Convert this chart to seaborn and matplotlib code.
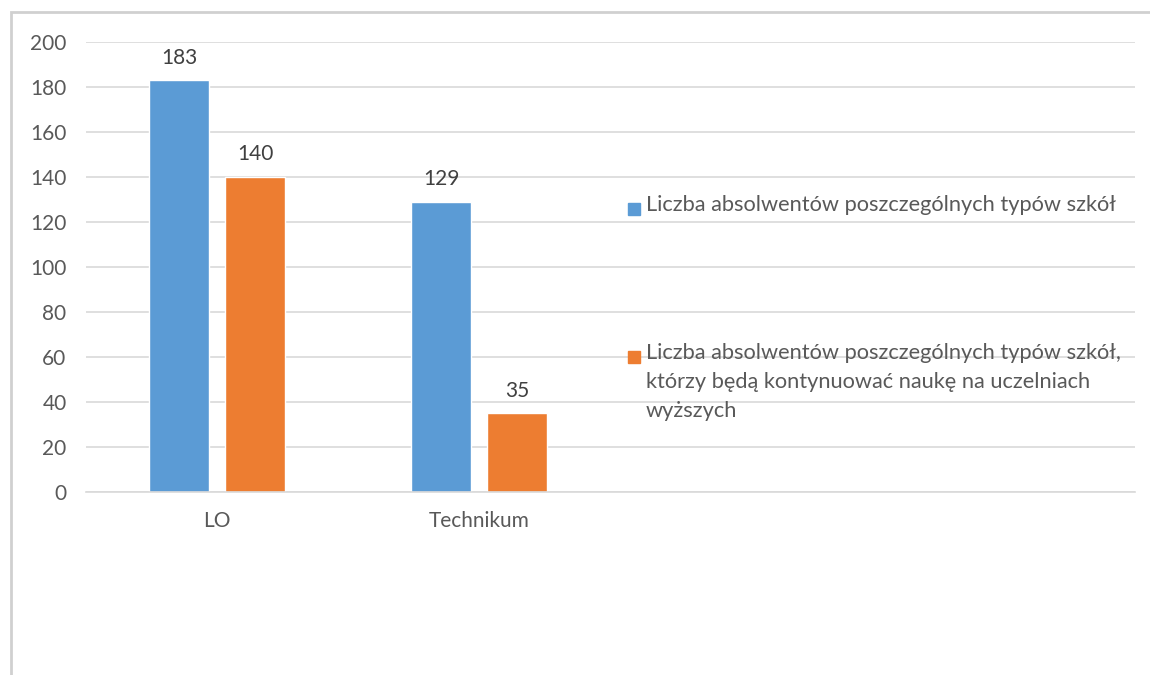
import pandas as pd
import matplotlib.pyplot as plt
import seaborn as sns
from matplotlib.patches import Rectangle

# data
school_types = ["LO", "Technikum"]
series_names = [
    "Liczba absolwentów poszczególnych typów szkół",
    "Liczba absolwentów poszczególnych typów szkół,\nktórzy będą kontynuować naukę na uczelniach\nwyższych",
]
graduates = [183, 129]
continuing = [140, 35]
y_ticks = [0, 20, 40, 60, 80, 100, 120, 140, 160, 180, 200]

colors = ["#5B9BD5", "#ED7D31"]
text_color = "#595959"
grid_color = "#D9D9D9"

df = pd.DataFrame({
    "Typ": school_types * 2,
    "Seria": [series_names[0]] * 2 + [series_names[1]] * 2,
    "Wartosc": graduates + continuing,
})

sns.set_style("white")
plt.rcParams["font.family"] = ["Lato", "DejaVu Sans"]

fig = plt.figure(figsize=(11.5, 6.75), dpi=100)
ax = fig.add_axes([86 / 1150, 1 - 492 / 675, 1049 / 1150, 450 / 675])

sns.barplot(data=df, x="Typ", y="Wartosc", hue="Seria", order=school_types,
            hue_order=series_names, palette=colors, width=0.58, gap=0.21,
            saturation=1, legend=False, ax=ax)

for container in ax.containers:
    ax.bar_label(container, padding=9, fontsize=15, color="#404040")

# Excel leaves room for two more empty categories
ax.set_xlim(-0.5, 3.5)
ax.set_ylim(0, 200)
ax.set_yticks(y_ticks)
ax.set_xlabel("")
ax.set_ylabel("")
ax.grid(axis="y", color=grid_color, linewidth=1.2)
ax.set_axisbelow(True)
for side in ["top", "right", "left"]:
    ax.spines[side].set_visible(False)
ax.spines["bottom"].set_color(grid_color)
ax.spines["bottom"].set_linewidth(1.2)
ax.tick_params(axis="both", length=0, labelsize=15, labelcolor=text_color)
ax.tick_params(axis="y", pad=14)
ax.tick_params(axis="x", pad=14)

# legend drawn by hand so the marker sits on the first line
legend_y = [209, 357]
for name, color, ly in zip(series_names, colors, legend_y):
    fig.add_artist(Rectangle((628 / 1150, 1 - (ly + 6) / 675), 12 / 1150, 12 / 675,
                             transform=fig.transFigure, color=color))
    fig.text(646 / 1150, 1 - (ly - 14) / 675, name, fontsize=15.7, color=text_color,
             va="top", ha="left", linespacing=1.55)

# chart frame (only top and left edges visible)
fig.add_artist(Rectangle((11 / 1150, -0.1), 1.2, 1.1 - 12 / 675,
                         transform=fig.transFigure, fill=False,
                         edgecolor="#D0D0D0", linewidth=2))

fig.savefig("out.png", dpi=100)
